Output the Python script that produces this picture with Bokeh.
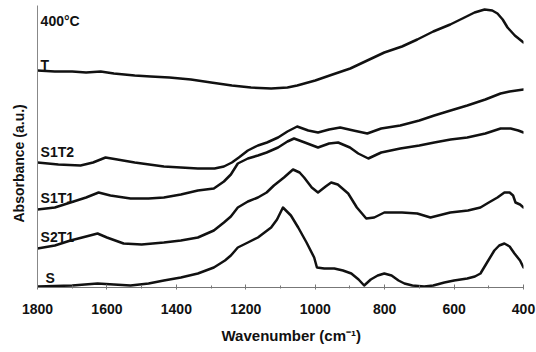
from bokeh.plotting import figure
from bokeh.models import Range1d, ColumnDataSource, Label, FixedTicker, Title
from bokeh.core.properties import value
from bokeh.embed import file_html
from bokeh.resources import INLINE

# ---- data (wavenumber cm^-1, stacked absorbance a.u.) ----
T_wn = [1800,1750,1700,1660,1618,1580,1520,1474,1420,1358,1300,1240,1185,1127,1080,1052,1000,950,899,850,801,750,706,660,611,570,541,512,490,475,460,446,425,400]
T_ab = [217,216,216,215,216,214,212,211,210,208,205,202,200,199,200,202,207,213,219,227,235,241,248,256,263,270,275,278,277,274,268,260,252,245]

S1T2_wn = [1800,1740,1676,1640,1604,1570,1520,1436,1387,1338,1290,1263,1240,1220,1194,1165,1139,1107,1080,1052,1020,992,960,928,890,850,810,755,700,657,610,562,510,466,440,420,400]
S1T2_ab = [125,123,122,125,130,128,125,121,120,119,119,121,125,130,137,142,145,150,156,161,157,155,158,160,157,154,159,162,167,172,177,182,188,194,196,197,198]

S1T1_wn = [1800,1750,1705,1660,1624,1590,1532,1480,1436,1387,1338,1292,1263,1243,1223,1194,1165,1140,1107,1080,1061,1030,992,960,934,900,876,847,810,755,700,657,610,562,510,466,437,415,400]
S1T1_ab = [78,80,85,90,95,92,89,89,90,93,97,99,106,113,124,129,132,135,140,146,149,145,140,144,145,140,134,129,135,139,142,145,148,150,154,159,159,157,155]

S2T1_wn = [1800,1750,1705,1660,1627,1600,1552,1500,1436,1387,1338,1292,1263,1243,1223,1194,1165,1140,1119,1090,1064,1045,1032,1010,992,970,954,935,905,880,853,830,801,750,706,668,611,560,524,500,475,455,440,430,423,410,400]
S2T1_ab = [39,42,47,51,54,50,44,43,45,47,50,57,65,71,80,86,90,95,102,110,118,115,110,100,95,101,105,103,94,80,69,70,75,75,74,70,75,77,80,85,90,95,95,92,85,83,80]

S_wn = [1800,1700,1627,1580,1532,1480,1436,1387,1338,1292,1260,1243,1223,1194,1165,1127,1110,1093,1070,1049,1025,1003,995,974,945,920,896,875,859,840,820,801,780,760,743,720,686,660,628,600,562,540,524,505,484,470,455,440,426,410,400]
S_ab = [1,2,4,3,2,4,7,10,14,20,27,32,40,45,50,60,68,80,72,60,45,30,20,19,19,17,14,8,2,8,12,14,12,7,4,2,1,2,5,7,9,11,14,25,37,42,44,41,34,27,20]

series_names = ["T", "S1T2", "S1T1", "S2T1", "S"]
label_x = [1791, 1791, 1791, 1791, 1777]
label_y = [223, 136, 90, 51, 10]
title_text = "400°C"
x_ticks = [1800, 1600, 1400, 1200, 1000, 800, 600, 400]

FONT = "Liberation Sans"

p = figure(width=536, height=352, output_backend="svg", toolbar_location=None,
           x_range=Range1d(1800, 400), y_range=Range1d(0, 282),
           min_border_left=37, min_border_right=13, min_border_top=5, min_border_bottom=65)
p.outline_line_color = None
p.background_fill_color = "white"
p.border_fill_color = "white"
p.xgrid.visible = False
p.ygrid.visible = False

for wn, ab in [(T_wn, T_ab), (S1T2_wn, S1T2_ab), (S1T1_wn, S1T1_ab), (S2T1_wn, S2T1_ab), (S_wn, S_ab)]:
    p.line(wn, ab, line_color="#111111", line_width=2.5, line_join="round", line_cap="round")

src = ColumnDataSource(dict(x=label_x, y=label_y, t=series_names))
p.text(x="x", y="y", text="t", source=src, text_font=value(FONT), text_font_style="bold",
       text_font_size="14px", text_align="left", text_baseline="middle", text_color="#111111")
p.add_layout(Label(x=1791, y=267, text=title_text, text_font=FONT, text_font_style="bold",
                   text_font_size="14px", text_align="left", text_baseline="middle", text_color="#111111"))

xa = p.xaxis[0]
xa.ticker = FixedTicker(ticks=x_ticks, minor_ticks=list(range(400, 1801, 100)))
xa.axis_line_color = "#777777"
xa.major_tick_line_color = "#777777"
xa.minor_tick_line_color = "#777777"
xa.major_tick_in = 3
xa.major_tick_out = 2
xa.minor_tick_in = 2
xa.minor_tick_out = 1
xa.major_label_text_font = FONT
xa.major_label_text_font_style = "bold"
xa.major_label_text_font_size = "14px"
xa.major_label_text_color = "#111111"
xa.major_label_standoff = 14

ya = p.yaxis[0]
ya.axis_line_color = "#888888"
ya.major_tick_line_color = None
ya.minor_tick_line_color = None
ya.major_tick_out = 0
ya.major_tick_in = 0
ya.major_label_standoff = 0
ya.major_label_text_font_size = "0px"
ya.major_label_text_color = None

p.add_layout(Title(text="Wavenumber (cm⁻¹)", align="left", offset=184, text_font=FONT,
                   text_font_style="bold", text_font_size="15px", text_color="#111111",
                   standoff=16), "below")
p.add_layout(Title(text="Absorbance (a.u.)", align="left", offset=65, text_font=FONT,
                   text_font_style="bold", text_font_size="14px", text_color="#111111",
                   standoff=14), "left")

open("out.html", "w").write(file_html(p, INLINE))
